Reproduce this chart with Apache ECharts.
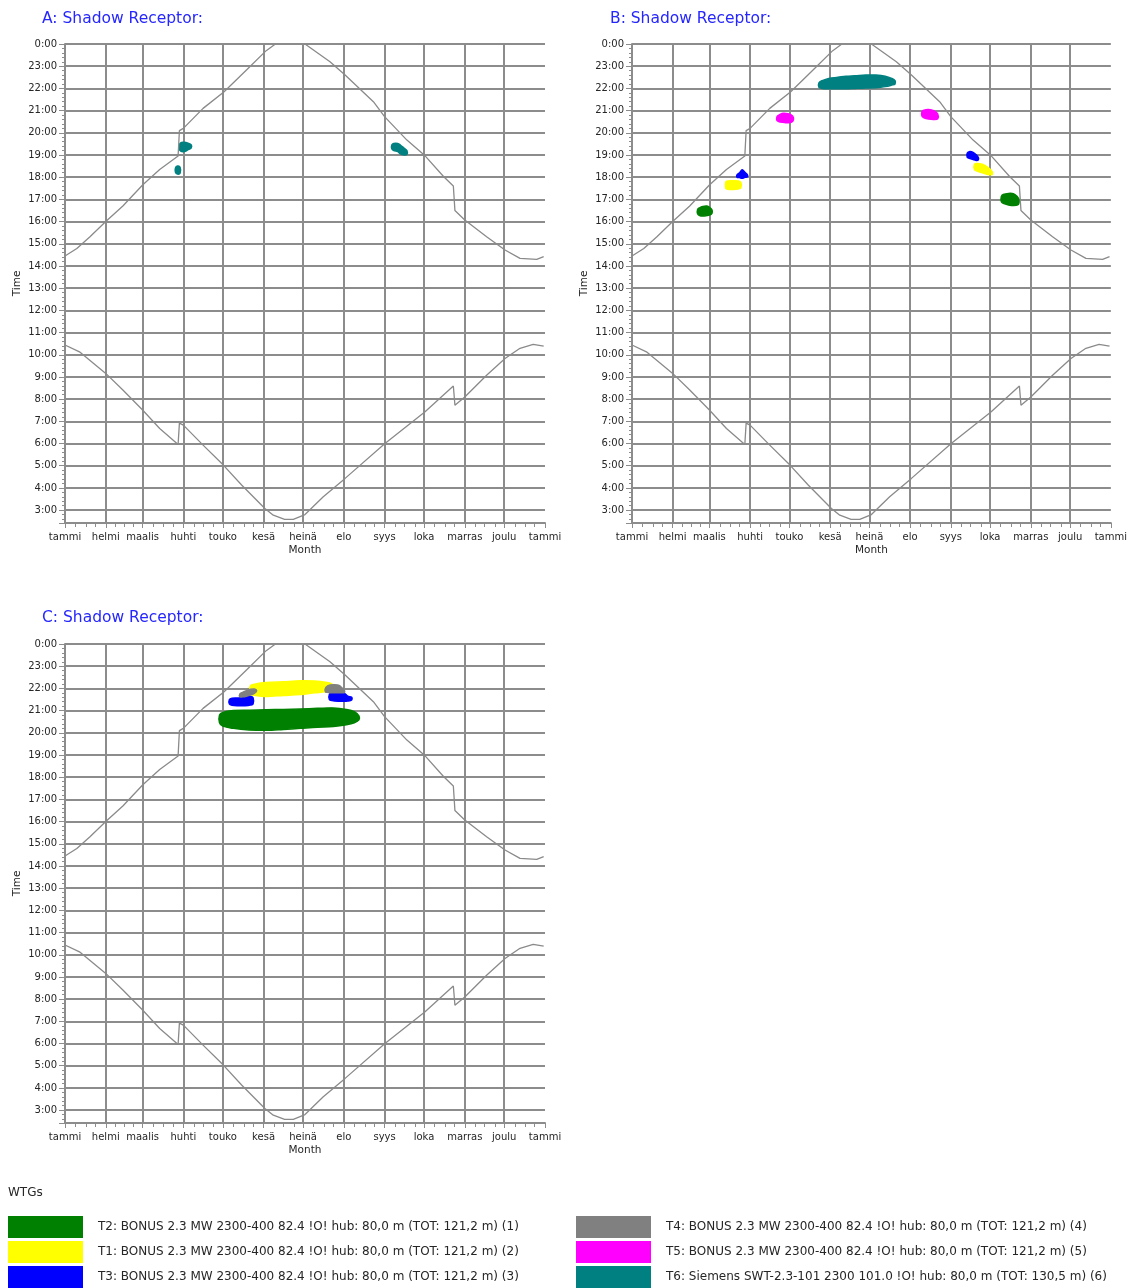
<!DOCTYPE html>
<html>
<head>
<meta charset="utf-8">
<script src="https://cdn.jsdelivr.net/npm/echarts@6/dist/echarts.min.js"></script>
<style>html,body{margin:0;padding:0;background:#fff}#main{width:1130px;height:1288px}</style>
</head>
<body>
<div id="main"></div>
<script>
// ---------- axis labels ----------
const monthLabels = ['tammi','helmi','maalis','huhti','touko','kesä','heinä','elo','syys','loka','marras','joulu','tammi'];
const monthStartDays = [0,31,59,90,120,151,181,212,243,273,304,334,365];
const hourLabels = ['0:00','23:00','22:00','21:00','20:00','19:00','18:00','17:00','16:00','15:00','14:00','13:00','12:00','11:00','10:00','9:00','8:00','7:00','6:00','5:00','4:00','3:00'];
const panelTitles = ['A: Shadow Receptor:', 'B: Shadow Receptor:', 'C: Shadow Receptor:'];

// ---------- sun curves: [day of year, clock time in hours] ----------
const sunsetCurve = [[0,14.45],[9,14.79],[19,15.32],[31,16.0],[44,16.7],[59,17.65],[72,18.35],[86,18.95],[87,20.1],[90,20.2],[105,21.1],[121,21.85],[138,22.83],[153,23.7],[160,24.0],null,
  [182.5,24.0],[201.5,23.2],[213,22.6],[234.5,21.4],[243,20.73],[260,19.67],[274,18.95],[288,18.02],[295.3,17.6],[296.5,16.5],[304,16.07],[320.6,15.32],[334.6,14.72],[346,14.34],[358.7,14.3],[364,14.42]];
const sunriseCurve = [[0,10.44],[11,10.13],[31,9.16],[44,8.41],[59,7.51],[72,6.68],[86,5.96],[87,6.92],[90,6.83],[105,5.93],[120.4,5.03],[134.3,4.13],[152,3.07],[158.4,2.77],[167,2.58],[173.6,2.58],[182.5,2.8],[196.4,3.6],[213,4.43],[243.3,6.0],[273.8,7.43],[295.3,8.59],[296.5,7.73],[304,8.1],[320.6,9.08],[334.6,9.83],[346,10.29],[356,10.47],[364,10.39]];

// ---------- shadow periods: [day, start time, end time] ----------
// Panel A
const a_T6_1 = [[87,19.25,19.45],[88,19.17,19.55],[90,19.15,19.57],[92,19.18,19.56],[94,19.25,19.52],[96,19.32,19.45]];
const a_T6_2 = [[84,18.22,18.42],[85.5,18.14,18.5],[87.5,18.18,18.45]];
const a_T6_3 = [[248.5,19.28,19.45],[250,19.2,19.52],[253,19.15,19.52],[255,19.05,19.45],[258,19.0,19.3],[260,19.03,19.2]];
// Panel B
const b_T2_1 = [[50,16.35,16.55],[51.5,16.27,16.62],[54,16.25,16.68],[57,16.27,16.7],[59.5,16.3,16.62],[61,16.38,16.52]];
const b_T2_2 = [[281.5,16.9,17.12],[283,16.82,17.22],[287,16.75,17.27],[291,16.72,17.25],[294,16.75,17.1],[295,16.85,17.0]];
const b_T1_1 = [[71.5,17.5,17.78],[73,17.46,17.83],[77,17.45,17.84],[81,17.47,17.83],[83,17.52,17.76]];
const b_T1_2 = [[261,18.35,18.58],[263,18.28,18.62],[267,18.2,18.58],[271,18.12,18.45],[274.5,18.12,18.25]];
const b_T3_1 = [[80,18.0,18.1],[82,17.98,18.2],[84,17.95,18.33],[86,17.99,18.22],[88,18.02,18.1]];
const b_T3_2 = [[255.5,18.9,19.08],[257,18.85,19.15],[260,18.8,19.12],[262.5,18.75,19.0],[264,18.78,18.88]];
const b_T5_1 = [[110.5,20.55,20.72],[112,20.5,20.8],[115,20.47,20.88],[119,20.45,20.86],[122.5,20.52,20.75]];
const b_T5_2 = [[221,20.75,20.95],[222.5,20.68,21.02],[226,20.62,21.05],[230,20.6,21.0],[233,20.63,20.85]];
const b_T6_1 = [[142.5,22.05,22.25],[145,22.0,22.35],[150,21.98,22.45],[157,21.98,22.5],[163,21.98,22.55],[170,22.0,22.57],[178,22.02,22.6],[186,22.03,22.6],[193,22.08,22.55],[198,22.15,22.45],[200.5,22.2,22.35]];
// Panel C
const c_T2_1 = [[117.5,20.45,20.8],[120,20.3,20.92],[128,20.2,21.0],[140,20.13,21.02],[153,20.11,21.04],[166,20.15,21.05],[179,20.2,21.07],[192,20.25,21.1],[204,20.28,21.12],[214,20.36,21.05],[220,20.45,20.95],[223.5,20.58,20.76]];
const c_T1_1 = [[141,21.75,22.12],[145,21.68,22.2],[153,21.64,22.26],[166,21.68,22.3],[179,21.72,22.34],[190,21.8,22.33],[198,21.85,22.28],[203,21.92,22.2]];
const c_T3_1 = [[125,21.3,21.5],[127,21.24,21.56],[132,21.22,21.57],[137,21.22,21.6],[141,21.25,21.64],[143,21.3,21.58]];
const c_T3_2 = [[201,21.5,21.72],[203,21.45,21.8],[208,21.42,21.82],[212,21.42,21.8],[215,21.43,21.65],[218,21.48,21.6]];
const c_T4_1 = [[133,21.62,21.75],[135,21.62,21.82],[138,21.65,21.9],[141,21.7,21.96],[144,21.78,21.97],[145.5,21.85,21.93]];
const c_T4_2 = [[198,21.85,22.0],[200,21.82,22.12],[204,21.8,22.16],[208,21.8,22.14],[211,21.8,22.0],[212.5,21.82,21.9]];

// ---------- turbines ----------
const wtgNames = [
  'T2: BONUS 2.3 MW 2300-400 82.4 !O! hub: 80,0 m (TOT: 121,2 m) (1)',
  'T1: BONUS 2.3 MW 2300-400 82.4 !O! hub: 80,0 m (TOT: 121,2 m) (2)',
  'T3: BONUS 2.3 MW 2300-400 82.4 !O! hub: 80,0 m (TOT: 121,2 m) (3)',
  'T4: BONUS 2.3 MW 2300-400 82.4 !O! hub: 80,0 m (TOT: 121,2 m) (4)',
  'T5: BONUS 2.3 MW 2300-400 82.4 !O! hub: 80,0 m (TOT: 121,2 m) (5)',
  'T6: Siemens SWT-2.3-101 2300 101.0 !O! hub: 80,0 m (TOT: 130,5 m) (6)'
];
const wtgColors = ['#008000','#ffff00','#0000ff','#808080','#ff00ff','#008080'];

// per panel: list of [turbine index, blobs]
const panelBlobs = [
  [[5,[a_T6_1,a_T6_2,a_T6_3]]],
  [[0,[b_T2_1,b_T2_2]],[1,[b_T1_1,b_T1_2]],[2,[b_T3_1,b_T3_2]],[4,[b_T5_1,b_T5_2]],[5,[b_T6_1]]],
  [[0,[c_T2_1]],[1,[c_T1_1]],[2,[c_T3_1,c_T3_2]],[3,[c_T4_1,c_T4_2]]]
];

// ---------- layout ----------
const FONT = 'DejaVu Sans';
const GRIDC = '#8c8c8c';
const TXT = '#262626';
const TOP_HOURS = 24, SPAN = 21.58;
const grids = [
  {left:65, top:44, width:480, height:479},
  {left:632, top:44, width:480, height:479},
  {left:65, top:644, width:480, height:479}
];
const titlePos = [[42,11],[610,11],[42,610]];

const dayCats = Array.from({length:366}, (_, i) => i);
const monthSet = new Set(monthStartDays);
const minorSet = new Set();
for (let m = 0; m < 12; m++) {
  const s = monthStartDays[m], len = monthStartDays[m+1] - s;
  for (let k = 1; k < 4; k++) minorSet.add(s + Math.round(len * k / 4));
}
const toV = t => TOP_HOURS - t;

const xAxis = [], yAxis = [], series = [], title = [];
grids.forEach((g, gi) => {
  title.push({text: panelTitles[gi], left: titlePos[gi][0], top: titlePos[gi][1], padding: 0,
    textStyle: {fontFamily: FONT, fontSize: 15.5, fontWeight: 'normal', color: '#2626ff'}});
  xAxis.push({type:'value', gridIndex: gi, min:0, max:365, show:false});
  xAxis.push({type:'category', gridIndex: gi, data: dayCats, boundaryGap:false, position:'bottom',
    axisLine:{onZero:false, lineStyle:{color:GRIDC, width:2}},
    axisTick:{interval:(i)=>monthSet.has(i), length:5, lineStyle:{color:GRIDC, width:1}},
    axisLabel:{interval:(i)=>monthSet.has(i), formatter:(v)=>{const k=monthStartDays.indexOf(Number(v)); return k>=0?monthLabels[k]:'';},
      fontFamily:FONT, fontSize:10, color:TXT, margin:9, showMinLabel:true, showMaxLabel:true, hideOverlap:false},
    splitLine:{show:true, interval:(i)=>monthSet.has(i) && i>0 && i<365, lineStyle:{color:GRIDC, width:2}},
    name:'Month', nameLocation:'middle', nameGap:22, nameTextStyle:{fontFamily:FONT, fontSize:10.5, color:TXT}
  });
  xAxis.push({type:'category', gridIndex: gi, data: dayCats, boundaryGap:false, position:'bottom',
    axisLine:{show:false, onZero:false},
    axisTick:{interval:(i)=>minorSet.has(i), length:4, lineStyle:{color:GRIDC, width:1}},
    axisLabel:{show:false}, splitLine:{show:false}
  });
  yAxis.push({type:'value', gridIndex: gi, inverse:true, min:0, max:SPAN, interval:1,
    axisLine:{show:true, onZero:false, lineStyle:{color:GRIDC, width:2}},
    axisTick:{show:true, length:6, lineStyle:{color:GRIDC, width:1}},
    minorTick:{show:true, splitNumber:5, length:3, lineStyle:{color:GRIDC, width:1}},
    axisLabel:{formatter:(v)=> Number.isInteger(v) && hourLabels[v] !== undefined ? hourLabels[v] : '',
      fontFamily:FONT, fontSize:10, color:TXT, margin:8},
    splitLine:{show:true, lineStyle:{color:GRIDC, width:2}},
    name:'Time', nameLocation:'middle', nameGap:42, nameTextStyle:{fontFamily:FONT, fontSize:10.5, color:TXT}
  });
  const xi = gi*3;
  [sunsetCurve, sunriseCurve].forEach(curve => {
    series.push({type:'line', xAxisIndex: xi, yAxisIndex: gi, showSymbol:false, symbol:'none', silent:true,
      connectNulls:false, clip:true, animation:false,
      lineStyle:{color:'#8a8a8a', width:1.3},
      data: curve.map(p => p === null ? [null, null] : [p[0], toV(p[1])])});
  });
  panelBlobs[gi].forEach(([ti, blobs]) => {
    const color = wtgColors[ti];
    series.push({type:'custom', name: wtgNames[ti], xAxisIndex: xi, yAxisIndex: gi, clip:true, animation:false,
      itemStyle:{color},
      encode:{x:0, y:1},
      data: blobs.map(b => [b[0][0], toV(b[0][1])]),
      renderItem:(params, api) => {
        const b = blobs[params.dataIndex];
        const upper = b.map(p => api.coord([p[0], toV(p[2])]));
        const lower = b.slice().reverse().map(p => api.coord([p[0], toV(p[1])]));
        return {type:'polygon', shape:{points: upper.concat(lower), smooth:0.35},
          style:{fill: color, stroke: color, lineWidth: 1.5}};
      }
    });
  });
});

title.push({text:'WTGs', left:8, top:1187, padding:0, textStyle:{fontFamily:FONT, fontSize:12, fontWeight:'normal', color:TXT}});

const legendItem = i => ({name: wtgNames[i], icon:'rect', itemStyle:{color: wtgColors[i], borderWidth:0}});
const legendCommon = {orient:'vertical', itemWidth:75, itemHeight:22, itemGap:3, selectedMode:false, padding:0, height:80,
  textStyle:{fontFamily:FONT, fontSize:12, color:TXT, padding:[0,0,0,10]}};

const chart = echarts.init(document.getElementById('main'), null, {renderer:'canvas'});
chart.setOption({
  animation:false,
  backgroundColor:'#ffffff',
  title,
  grid: grids,
  xAxis, yAxis, series,
  legend:[
    Object.assign({left:8, top:1216, data:[0,1,2].map(legendItem)}, legendCommon),
    Object.assign({left:576, top:1216, data:[3,4,5].map(legendItem)}, legendCommon)
  ]
});
</script>
</body>
</html>
